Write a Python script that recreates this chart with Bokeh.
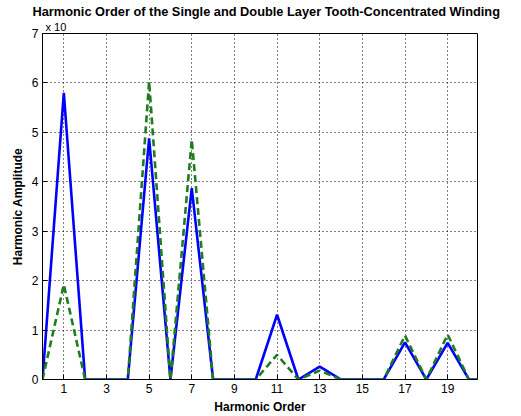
from bokeh.plotting import figure
from bokeh.models import Range1d, FixedTicker, Title
from bokeh.embed import file_html
from bokeh.resources import INLINE

# Harmonic orders (0..21)
harmonic_order = list(range(0, 22))
# Single layer (blue, solid) amplitudes, x 10^-3
single_layer = [0, 5.8, 0, 0, 0, 4.88, 0, 3.87, 0, 0, 0, 1.31, 0, 0.26, 0, 0, 0, 0.75, 0, 0.74, 0, 0]
# Double layer (green, dashed) amplitudes, x 10^-3
double_layer = [0, 1.92, 0, 0, 0, 6.03, 0, 4.85, 0, 0, 0, 0.5, 0, 0.18, 0, 0, 0, 0.89, 0, 0.91, 0, 0]
x_ticks = [1, 3, 5, 7, 9, 11, 13, 15, 17, 19]
y_ticks = [0, 1, 2, 3, 4, 5, 6, 7]
title_text = "Harmonic Order of the Single and Double Layer Tooth-Concentrated Winding"
exponent_text = "x 10"

FONT = "Liberation Sans"

p = figure(width=521, height=416, output_backend="svg", toolbar_location=None,
           x_range=Range1d(0, 20.4), y_range=Range1d(0, 7),
           min_border_left=42, min_border_right=44, min_border_top=33, min_border_bottom=36,
           x_axis_label="Harmonic Order", y_axis_label="Harmonic Amplitude")
p.background_fill_color = "white"
p.border_fill_color = "white"
p.outline_line_color = "black"
p.outline_line_width = 1

exp_t = Title(text=exponent_text, align="left", offset=3, text_font=FONT,
              text_font_size="11px", text_font_style="normal", text_color="black", standoff=1)
p.add_layout(exp_t, "above")
main_t = Title(text=title_text, align="left", offset=-10, text_font=FONT,
               text_font_size="12.8px", text_font_style="bold", text_color="black", standoff=0)
p.add_layout(main_t, "above")

p.line(harmonic_order, single_layer, line_color="#0000ff", line_width=2.6)
p.line(harmonic_order, double_layer, line_color="#1e7d1e", line_width=2.6, line_dash="7 4")

for ax in p.xaxis:
    ax.ticker = FixedTicker(ticks=x_ticks)
for ax in p.yaxis:
    ax.ticker = FixedTicker(ticks=y_ticks)

for ax in list(p.xaxis) + list(p.yaxis):
    ax.major_tick_in = 5
    ax.major_tick_out = 0
    ax.minor_tick_line_color = None
    ax.axis_line_color = "black"
    ax.major_tick_line_color = "black"
    ax.major_label_text_font = FONT
    ax.major_label_text_font_size = "12px"
    ax.major_label_text_color = "black"
    ax.major_label_standoff = 4
    ax.axis_label_text_font = FONT
    ax.axis_label_text_font_size = "12px"
    ax.axis_label_text_font_style = "bold"
    ax.axis_label_text_color = "black"
    ax.axis_label_standoff = 4

p.xgrid.ticker = FixedTicker(ticks=x_ticks)
p.ygrid.ticker = FixedTicker(ticks=y_ticks)
for g in (p.xgrid, p.ygrid):
    g.grid_line_color = "black"
    g.grid_line_dash = "1 3"
    g.grid_line_width = 1

open("out.html", "w").write(file_html(p, INLINE))
